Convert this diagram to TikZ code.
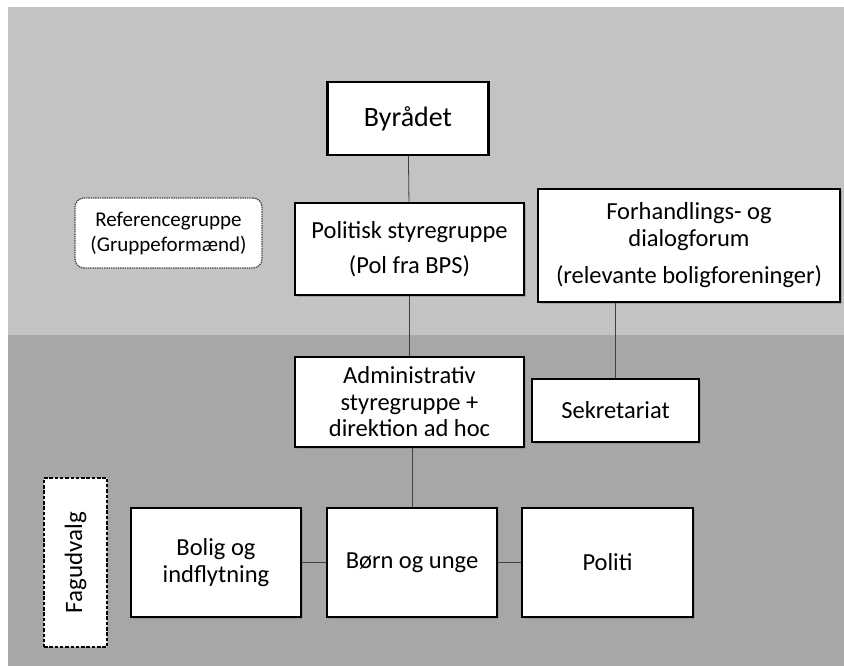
\documentclass[tikz,border=0pt]{standalone}
\usepackage{fontspec}
\setmainfont{Carlito}
\usetikzlibrary{shadows}
\definecolor{topgray}{RGB}{195,195,195}
\definecolor{lowgray}{RGB}{167,167,167}
\tikzset{
  orgbox/.style={draw=black, line width=2.2pt, fill=white, align=center, inner sep=2pt,
    drop shadow={shadow xshift=1.5pt, shadow yshift=-1.5pt, opacity=.45},
    font=\fontsize{24.5}{26.5}\selectfont},
  refbox/.style={draw=black!70, line width=1.3pt, dash pattern=on 1.5pt off 0.8pt,
    rounded corners=9pt, fill=white, align=center,
    font=\fontsize{21}{25}\selectfont},
  fagbox/.style={draw=black, line width=2.6pt, dash pattern=on 3.5pt off 1.8pt, fill=white,
    font=\fontsize{25}{28}\selectfont},
  link/.style={draw=black!75, line width=0.8pt}
}
\begin{document}
\begin{tikzpicture}[x=1pt,y=-1pt]
                \useasboundingbox (0,0) rectangle (844,666);
                % background bands
                \fill[white] (0,0) rectangle (844,666);
                \fill[topgray] (8,7) rectangle (844,335);
                \fill[lowgray] (8,335) rectangle (844,666);
                % political level
                \node[orgbox, minimum width=161pt, minimum height=73pt,
                  font=\fontsize{28}{32}\selectfont] (byraadet) at (408,118.5) {Byrådet};
                \node[refbox, minimum width=187pt, minimum height=70pt] (reference) at (168.5,233)
                  {Referencegruppe\\(Gruppeformænd)};
                \node[orgbox, minimum width=229pt, minimum height=92pt] (politisk) at (409.5,249)
                  {Politisk styregruppe\\[9pt](Pol fra BPS)};
                \node[orgbox, minimum width=302pt, minimum height=113pt] (forhandling) at (689,245.5)
                  {Forhandlings- og\\dialogforum\\[11pt](relevante boligforeninger)};
                % administrative level
                \node[orgbox, minimum width=229pt, minimum height=90pt] (admin) at (409.5,402)
                  {Administrativ\\styregruppe +\\direktion ad hoc};
                \node[orgbox, minimum width=167pt, minimum height=63pt] (sekretariat) at (615.5,410.5)
                  {Sekretariat};
                % fagudvalg
                \node[fagbox, minimum width=63pt, minimum height=169pt] (fagudvalg) at (75.5,562.5)
                  {\rotatebox{90}{Fagudvalg}};
                \node[orgbox, minimum width=170pt, minimum height=109pt] (bolig) at (216,562.5)
                  {Bolig og\\indflytning};
                \node[orgbox, minimum width=170pt, minimum height=109pt] (boern) at (412,562.5)
                  {Børn og unge};
                \node[orgbox, minimum width=171pt, minimum height=109pt] (politi) at (607.5,562.5)
                  {Politi};
                % connectors
                \draw[link] (byraadet) -- (politisk);
                \draw[link] (politisk) -- (admin);
                \draw[link] (admin.south -| boern) -- (boern);
                \draw[link] (sekretariat) -- (sekretariat |- forhandling.south);
                \draw[link] (bolig) -- (boern);
                \draw[link] (boern) -- (politi);
\end{tikzpicture}
\end{document}
